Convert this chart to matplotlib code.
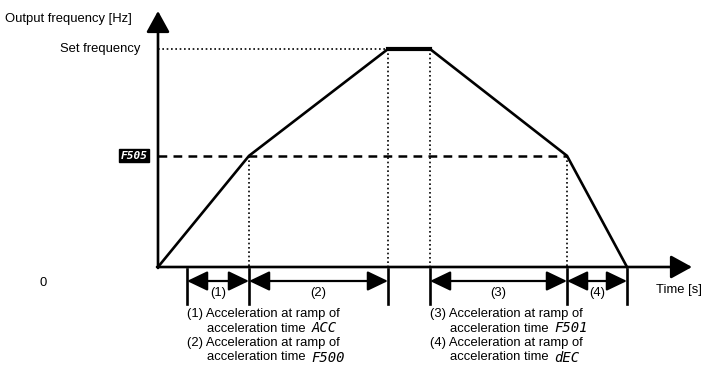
import matplotlib
matplotlib.use("Agg")
import matplotlib.pyplot as plt

plt.rcParams['font.family'] = ['Liberation Sans', 'DejaVu Sans']

# ramp profile (time units, frequency relative to set frequency)
times = [0, 9.1, 23.0, 27.2, 40.9, 46.9]
freqs = [0, 0.51, 1.0, 1.0, 0.51, 0]
set_freq = 1.0
f505_level = 0.51

# ramp intervals marked below the time axis
intervals = [(2.9, 9.1), (9.1, 23.0), (27.2, 40.9), (40.9, 46.9)]
interval_labels = ['(1)', '(2)', '(3)', '(4)']

notes_left = [('(1) Acceleration at ramp of', 'acceleration time ', 'ACC'),
              ('(2) Acceleration at ramp of', 'acceleration time ', 'F500')]
notes_right = [('(3) Acceleration at ramp of', 'acceleration time ', 'F501'),
               ('(4) Acceleration at ramp of', 'acceleration time ', 'dEC')]

# pixel -> data helpers (10 px per time unit, 218 px per frequency unit)
X0, Y0, SX, SY = 158, 267, 10.0, 218.0
def px(x):
    return (x - X0) / SX
def py(y):
    return (Y0 - y) / SY

FS = 9.4

fig = plt.figure(figsize=(7.14, 3.71), dpi=100)
ax = fig.add_axes([0, 0, 1, 1])
ax.set_xlim(px(0), px(714))
ax.set_ylim(py(371), py(0))
ax.axis('off')

# axes with arrows
axis_arrow = dict(arrowstyle='-|>,head_length=1.0,head_width=0.55', lw=1.9,
                  color='black', mutation_scale=13, shrinkA=0, shrinkB=0)
ax.annotate('', xy=(0, py(11)), xytext=(0, py(268)), arrowprops=axis_arrow)
ax.annotate('', xy=(px(692), 0), xytext=(px(157), 0), arrowprops=axis_arrow)

# reference levels
ax.plot([0, times[2]], [set_freq, set_freq], color='black', lw=1.2,
        linestyle=(0, (1, 1.6)))
ax.plot([0, times[4]], [f505_level, f505_level], color='black', lw=1.8,
        linestyle=(0, (3.5, 2.5)))

# dotted drops to the time axis
for t, f in zip(times[1:5], freqs[1:5]):
    ax.plot([t, t], [f, 0], color='black', lw=1.2, linestyle=(0, (1, 1.6)))

# ramp curve
ax.plot(times, freqs, color='black', lw=1.9, solid_joinstyle='miter')
ax.plot([times[2], times[3]], [set_freq, set_freq], color='black', lw=3.0)

# interval ticks and double arrows
tick_pos = sorted(set([a for a, b in intervals] + [b for a, b in intervals]))
for t in tick_pos:
    ax.plot([t, t], [py(269), py(304)], color='black', lw=1.9)
dbl_arrow = dict(arrowstyle='<|-|>,head_length=1.15,head_width=0.55', lw=1.6,
                 color='black', mutation_scale=11, shrinkA=0, shrinkB=0)
for (a, b), lab in zip(intervals, interval_labels):
    ax.annotate('', xy=(a, py(281)), xytext=(b, py(281)), arrowprops=dbl_arrow)
    ax.text((a + b) / 2, py(293), lab, ha='center', va='center', fontsize=FS)

# axis texts
ax.text(px(5), py(19), 'Output frequency [Hz]', ha='left', va='center', fontsize=FS)
ax.text(px(140), set_freq, 'Set frequency', ha='right', va='center', fontsize=FS)
ax.text(px(43), py(283), '0', ha='center', va='center', fontsize=FS)
ax.text(px(656), py(290), 'Time [s]', ha='left', va='center', fontsize=FS)
ax.text(px(134), f505_level, 'F505', ha='center', va='center', fontsize=8,
        color='white', fontweight='bold', style='italic', family='DejaVu Sans Mono',
        bbox=dict(boxstyle='square,pad=0.15', facecolor='black', edgecolor='black'))

# notes below the chart
seg_font = dict(family='DejaVu Sans Mono', style='italic', fontsize=10,
                fontweight='light')
for x_left, notes in ((187, notes_left), (430, notes_right)):
    row = 0
    for head, body, code in notes:
        y1 = 314 + row * 14.5
        y2 = y1 + 14.5
        ax.text(px(x_left), py(y1), head, ha='left', va='center', fontsize=FS)
        t = ax.text(px(x_left + 20), py(y2), body, ha='left', va='center', fontsize=FS)
        fig.canvas.draw()
        bb = t.get_window_extent()
        ax.annotate(code, xy=(bb.x1 + 2, bb.y0 + bb.height / 2), xycoords='figure pixels',
                    ha='left', va='center', **seg_font)
        row += 2

fig.savefig('out.png', dpi=100)
